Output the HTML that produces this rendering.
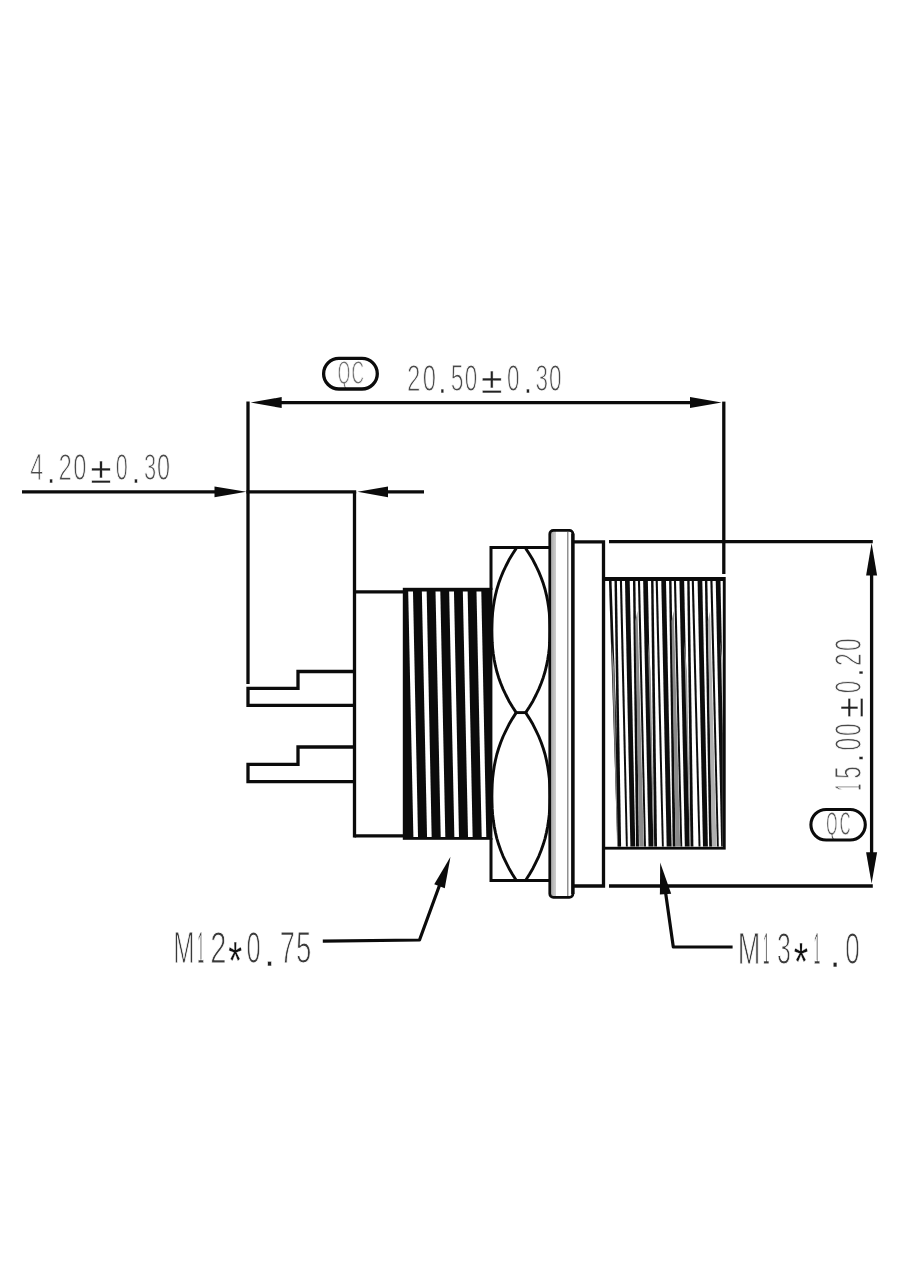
<!DOCTYPE html>
<html lang="en"><head><meta charset="utf-8"><title>Connector dimension drawing</title>
<style>
html,body{margin:0;padding:0;background:#fff}
body{width:920px;height:1280px;overflow:hidden}
svg{display:block}
text{font-family:"Liberation Sans","DejaVu Sans",sans-serif;paint-order:fill stroke;stroke-linejoin:round}
.lbl{filter:grayscale(1)}
</style></head><body>
<svg width="920" height="1280" viewBox="0 0 920 1280">
<rect width="920" height="1280" fill="#fff"/>
<g id="labels" class="lbl">
<text y="480.3" font-size="36" fill="#4a4a4a" stroke="#fff" stroke-width="1.0" aria-label="4.20±0.30"><tspan x="30.34" textLength="12.86" lengthAdjust="spacingAndGlyphs">4</tspan><tspan x="47.10" dy="2.6" fill="#222" stroke-width="0.5" textLength="8.34" lengthAdjust="spacingAndGlyphs">.</tspan><tspan x="58.49" dy="-2.6" textLength="13.42" lengthAdjust="spacingAndGlyphs">2</tspan><tspan x="73.35" textLength="13.21" lengthAdjust="spacingAndGlyphs">0</tspan><tspan x="90.56" dy="2.2" fill="#222" stroke-width="0.45" textLength="20.95" lengthAdjust="spacingAndGlyphs">±</tspan><tspan x="115.63" dy="-2.2" textLength="12.05" lengthAdjust="spacingAndGlyphs">0</tspan><tspan x="131.80" dy="2.6" fill="#222" stroke-width="0.5" textLength="8.34" lengthAdjust="spacingAndGlyphs">.</tspan><tspan x="144.02" dy="-2.6" textLength="12.18" lengthAdjust="spacingAndGlyphs">3</tspan><tspan x="156.96" textLength="13.09" lengthAdjust="spacingAndGlyphs">0</tspan></text>
<text y="391" font-size="36" fill="#4a4a4a" stroke="#fff" stroke-width="1.0" aria-label="20.50±0.30"><tspan x="407.09" textLength="13.42" lengthAdjust="spacingAndGlyphs">2</tspan><tspan x="422.75" textLength="13.21" lengthAdjust="spacingAndGlyphs">0</tspan><tspan x="438.30" dy="2.4" fill="#222" stroke-width="0.5" textLength="8.34" lengthAdjust="spacingAndGlyphs">.</tspan><tspan x="450.78" dy="-2.4" textLength="12.78" lengthAdjust="spacingAndGlyphs">5</tspan><tspan x="464.70" textLength="12.51" lengthAdjust="spacingAndGlyphs">0</tspan><tspan x="481.03" dy="2" fill="#222" stroke-width="0.45" textLength="21.40" lengthAdjust="spacingAndGlyphs">±</tspan><tspan x="506.90" dy="-2" textLength="12.51" lengthAdjust="spacingAndGlyphs">0</tspan><tspan x="523.80" dy="2.4" fill="#222" stroke-width="0.5" textLength="8.34" lengthAdjust="spacingAndGlyphs">.</tspan><tspan x="535.60" dy="-2.4" textLength="12.54" lengthAdjust="spacingAndGlyphs">3</tspan><tspan x="549.10" textLength="12.51" lengthAdjust="spacingAndGlyphs">0</tspan></text>
<text transform="translate(860.6,0) rotate(-90)" y="0" font-size="36" fill="#4a4a4a" stroke="#fff" stroke-width="1.0" aria-label="15.00±0.20"><tspan x="-790.77" textLength="7.11" lengthAdjust="spacingAndGlyphs">1</tspan><tspan x="-778.80" textLength="12.54" lengthAdjust="spacingAndGlyphs">5</tspan><tspan x="-762.30" dy="2.4" fill="#222" stroke-width="0.5" textLength="8.34" lengthAdjust="spacingAndGlyphs">.</tspan><tspan x="-750.62" dy="-2.4" textLength="12.74" lengthAdjust="spacingAndGlyphs">0</tspan><tspan x="-736.02" textLength="12.74" lengthAdjust="spacingAndGlyphs">0</tspan><tspan x="-718.14" dy="2" fill="#222" stroke-width="0.45" textLength="20.84" lengthAdjust="spacingAndGlyphs">±</tspan><tspan x="-693.30" dy="-2" textLength="12.51" lengthAdjust="spacingAndGlyphs">0</tspan><tspan x="-676.70" dy="2.4" fill="#222" stroke-width="0.5" textLength="8.34" lengthAdjust="spacingAndGlyphs">.</tspan><tspan x="-665.95" dy="-2.4" textLength="12.81" lengthAdjust="spacingAndGlyphs">2</tspan><tspan x="-651.02" textLength="12.74" lengthAdjust="spacingAndGlyphs">0</tspan></text>
<text y="963.3" font-size="44" fill="#3a3a3a" stroke="#fff" stroke-width="1.1" aria-label="M12*0.75"><tspan x="173.36" textLength="21.26" lengthAdjust="spacingAndGlyphs">M</tspan><tspan x="197.47" textLength="6.47" lengthAdjust="spacingAndGlyphs">1</tspan><tspan x="210.14" textLength="16.20" lengthAdjust="spacingAndGlyphs">2</tspan><tspan x="228.29" dy="16" font-size="54" fill="#111" stroke-width="0.3" textLength="13.89" lengthAdjust="spacingAndGlyphs">*</tspan><tspan x="246.58" dy="-16" textLength="14.13" lengthAdjust="spacingAndGlyphs">0</tspan><tspan x="263.90" dy="3" fill="#222" stroke-width="0.5" textLength="11.12" lengthAdjust="spacingAndGlyphs">.</tspan><tspan x="279.84" dy="-3" textLength="15.11" lengthAdjust="spacingAndGlyphs">7</tspan><tspan x="296.09" textLength="15.38" lengthAdjust="spacingAndGlyphs">5</tspan></text>
<text y="963.8" font-size="44" fill="#3a3a3a" stroke="#fff" stroke-width="1.1" aria-label="M13*1.0"><tspan x="737.63" textLength="22.63" lengthAdjust="spacingAndGlyphs">M</tspan><tspan x="763.07" textLength="6.47" lengthAdjust="spacingAndGlyphs">1</tspan><tspan x="777.00" textLength="13.84" lengthAdjust="spacingAndGlyphs">3</tspan><tspan x="793.86" dy="16.5" font-size="54" fill="#111" stroke-width="0.3" textLength="14.45" lengthAdjust="spacingAndGlyphs">*</tspan><tspan x="813.87" dy="-16.5" textLength="6.47" lengthAdjust="spacingAndGlyphs">1</tspan><tspan x="829.60" dy="3.4" fill="#222" stroke-width="0.5" textLength="11.12" lengthAdjust="spacingAndGlyphs">.</tspan><tspan x="845.36" dy="-3.4" textLength="14.48" lengthAdjust="spacingAndGlyphs">0</tspan></text>
<text y="384" font-size="33" fill="#707070" stroke="#fff" stroke-width="0.9" aria-label="QC"><tspan x="337.70" textLength="12.47" lengthAdjust="spacingAndGlyphs">Q</tspan><tspan x="351.53" textLength="12.49" lengthAdjust="spacingAndGlyphs">C</tspan></text>
<text y="834.6" font-size="33" fill="#555" stroke="#fff" stroke-width="0.8" aria-label="QC"><tspan x="826.29" textLength="11.10" lengthAdjust="spacingAndGlyphs">Q</tspan><tspan x="839.65" textLength="10.77" lengthAdjust="spacingAndGlyphs">C</tspan></text>
</g>
<g id="dimensions">
<line x1="275" y1="402.6" x2="696" y2="402.6" stroke="#0b0b0b" stroke-width="3.4" stroke-linecap="butt"/>
<polygon points="250.60,402.60 281.70,408.10 281.70,397.10" fill="#0b0b0b"/>
<polygon points="721.60,402.60 690.00,397.10 690.00,408.10" fill="#0b0b0b"/>
<line x1="248" y1="401.6" x2="248" y2="684" stroke="#0b0b0b" stroke-width="3.3" stroke-linecap="butt"/>
<line x1="723.8" y1="401.6" x2="723.8" y2="574" stroke="#0b0b0b" stroke-width="3.3" stroke-linecap="butt"/>
<line x1="22" y1="491.8" x2="230" y2="491.8" stroke="#0b0b0b" stroke-width="3.3" stroke-linecap="butt"/>
<polygon points="246.30,491.80 214.50,486.40 214.50,497.20" fill="#0b0b0b"/>
<line x1="246.4" y1="491.8" x2="356.2" y2="491.8" stroke="#0b0b0b" stroke-width="3.3" stroke-linecap="butt"/>
<polygon points="357.50,491.80 388.00,497.20 388.00,486.40" fill="#0b0b0b"/>
<line x1="380" y1="491.8" x2="424" y2="491.8" stroke="#0b0b0b" stroke-width="3.3" stroke-linecap="butt"/>
<line x1="609" y1="541.7" x2="872.8" y2="541.7" stroke="#0b0b0b" stroke-width="3.3" stroke-linecap="butt"/>
<line x1="609" y1="886" x2="872.8" y2="886" stroke="#0b0b0b" stroke-width="3.3" stroke-linecap="butt"/>
<line x1="871.6" y1="560" x2="871.6" y2="870" stroke="#0b0b0b" stroke-width="3.3" stroke-linecap="butt"/>
<polygon points="871.60,543.00 866.10,575.60 877.10,575.60" fill="#0b0b0b"/>
<polygon points="871.60,883.50 877.10,852.30 866.10,852.30" fill="#0b0b0b"/>
<path d="M322.8,941.2 L419.5,940 L440,884" fill="none" stroke="#0b0b0b" stroke-width="3.2" stroke-linejoin="round"/>
<polygon points="450.50,856.80 434.25,884.34 444.75,888.26" fill="#0b0b0b"/>
<path d="M732.6,947 H673.3 L665.5,892" fill="none" stroke="#0b0b0b" stroke-width="3.2" stroke-linejoin="round"/>
<polygon points="660.20,862.60 659.90,894.60 671.20,893.80" fill="#0b0b0b"/>
<rect x="323.6" y="358.4" width="53.7" height="30.6" rx="15.3" fill="none" stroke="#0b0b0b" stroke-width="3.3"/>
<rect x="810.9" y="809.5" width="54.4" height="30.5" rx="15.25" fill="none" stroke="#0b0b0b" stroke-width="3.1"/>
</g>
<g id="connector">
<line x1="354.5" y1="491.8" x2="354.5" y2="837.4" stroke="#0b0b0b" stroke-width="3.3" stroke-linecap="butt"/>
<line x1="354.5" y1="591.8" x2="404" y2="591.8" stroke="#0b0b0b" stroke-width="3.3" stroke-linecap="butt"/>
<line x1="354.5" y1="835.8" x2="404" y2="835.8" stroke="#0b0b0b" stroke-width="3.3" stroke-linecap="butt"/>
<path d="M355,671.5 H298 V688.3 H248 V705.3 H355" fill="none" stroke="#0b0b0b" stroke-width="3.3" stroke-linejoin="miter"/>
<path d="M355,747 H298 V764.4 H248 V781.6 H355" fill="none" stroke="#0b0b0b" stroke-width="3.3" stroke-linejoin="miter"/>
<rect x="402.8" y="587.8" width="89.6" height="252" fill="#0b0b0b"/>
<polygon points="408.20,591.40 413.00,591.40 418.00,837.00 413.40,837.00" fill="#fff"/>
<polygon points="421.86,591.40 426.66,591.40 431.66,837.00 427.06,837.00" fill="#fff"/>
<polygon points="435.52,591.40 440.32,591.40 445.32,837.00 440.72,837.00" fill="#fff"/>
<polygon points="449.18,591.40 453.98,591.40 458.98,837.00 454.38,837.00" fill="#fff"/>
<polygon points="462.84,591.40 467.64,591.40 472.64,837.00 468.04,837.00" fill="#fff"/>
<polygon points="476.50,591.40 481.30,591.40 486.30,837.00 481.70,837.00" fill="#fff"/>
<path d="M491,590 V547.5 H550" fill="none" stroke="#0b0b0b" stroke-width="3.0" stroke-linejoin="miter"/>
<path d="M491,838 V880.5 H550" fill="none" stroke="#0b0b0b" stroke-width="3.0" stroke-linejoin="miter"/>
<path d="M516.2,548.4 L512.4,554.3 L508.9,560.1 L505.9,566.0 L503.1,571.9 L500.7,577.7 L498.6,583.6 L496.8,589.5 L495.4,595.3 L494.2,601.2 L493.3,607.0 L492.6,612.9 L492.2,618.8 L492.0,624.6 L491.9,630.5 L492.0,636.4 L492.2,642.2 L492.6,648.1 L493.3,654.0 L494.2,659.8 L495.4,665.7 L496.8,671.5 L498.6,677.4 L500.7,683.3 L503.1,689.1 L505.9,695.0 L508.9,700.9 L512.4,706.7 L516.2,712.6" fill="none" stroke="#0b0b0b" stroke-width="2.9" stroke-linejoin="round"/>
<path d="M525.7,548.4 L529.5,554.3 L533.0,560.1 L536.0,566.0 L538.8,571.9 L541.2,577.7 L543.3,583.6 L545.1,589.5 L546.5,595.3 L547.7,601.2 L548.6,607.0 L549.3,612.9 L549.7,618.8 L549.9,624.6 L550.0,630.5 L549.9,636.4 L549.7,642.2 L549.3,648.1 L548.6,654.0 L547.7,659.8 L546.5,665.7 L545.1,671.5 L543.3,677.4 L541.2,683.3 L538.8,689.1 L536.0,695.0 L533.0,700.9 L529.5,706.7 L525.7,712.6" fill="none" stroke="#0b0b0b" stroke-width="2.9" stroke-linejoin="round"/>
<path d="M516.2,712.6 L512.4,718.6 L508.9,724.6 L505.9,730.6 L503.1,736.5 L500.7,742.5 L498.6,748.5 L496.8,754.5 L495.4,760.5 L494.2,766.5 L493.3,772.5 L492.6,778.4 L492.2,784.4 L492.0,790.4 L491.9,796.4 L492.0,802.4 L492.2,808.4 L492.6,814.4 L493.3,820.3 L494.2,826.3 L495.4,832.3 L496.8,838.3 L498.6,844.3 L500.7,850.3 L503.1,856.3 L505.9,862.2 L508.9,868.2 L512.4,874.2 L516.2,880.2" fill="none" stroke="#0b0b0b" stroke-width="2.9" stroke-linejoin="round"/>
<path d="M525.7,712.6 L529.5,718.6 L533.0,724.6 L536.0,730.6 L538.8,736.5 L541.2,742.5 L543.3,748.5 L545.1,754.5 L546.5,760.5 L547.7,766.5 L548.6,772.5 L549.3,778.4 L549.7,784.4 L549.9,790.4 L550.0,796.4 L549.9,802.4 L549.7,808.4 L549.3,814.4 L548.6,820.3 L547.7,826.3 L546.5,832.3 L545.1,838.3 L543.3,844.3 L541.2,850.3 L538.8,856.3 L536.0,862.2 L533.0,868.2 L529.5,874.2 L525.7,880.2" fill="none" stroke="#0b0b0b" stroke-width="2.9" stroke-linejoin="round"/>
<path d="M516,712.6 H526" fill="none" stroke="#0b0b0b" stroke-width="2.9" stroke-linejoin="miter"/>
<linearGradient id="fg" x1="0" x2="1" y1="0" y2="0"><stop offset="0" stop-color="#a8a8a8"/><stop offset="1" stop-color="#cfcfcf"/></linearGradient>
<rect x="550.6" y="531" width="5.4" height="366" fill="url(#fg)"/>
<rect x="567.2" y="532" width="1.2" height="364" fill="#777"/>
<rect x="549.75" y="530.3" width="23.2" height="367" rx="3.6" fill="none" stroke="#0b0b0b" stroke-width="2.7"/>
<rect x="571.2" y="533.5" width="3.3" height="360.5" fill="#0b0b0b"/>
<path d="M574,541.8 H603.5 V886 H574" fill="none" stroke="#0b0b0b" stroke-width="3.3" stroke-linejoin="miter"/>
<rect x="602" y="577" width="123.7" height="272.6" fill="#0b0b0b"/>
<rect x="605.2" y="581" width="117.6" height="265.8" fill="#fff"/>
<filter id="soft" x="-5%" y="-5%" width="110%" height="110%"><feGaussianBlur stdDeviation="0.45"/></filter>
<clipPath id="t2"><rect x="605.2" y="581" width="117.6" height="265.8"/></clipPath><g clip-path="url(#t2)"><g filter="url(#soft)">
<polygon points="608.95,581.00 611.55,581.00 620.45,846.80 617.45,846.80" fill="#0b0b0b"/>
<polygon points="614.51,581.00 616.91,581.00 621.10,846.80 618.20,846.80" fill="#0b0b0b"/>
<polygon points="619.89,581.00 621.99,581.00 627.82,846.80 625.92,846.80" fill="#0b0b0b"/>
<polygon points="611.55,641.00 614.35,671.00 617.95,846.80 617.15,846.80" fill="#8a8a8a"/>
<polygon points="625.00,581.00 629.70,581.00 635.30,846.80 630.40,846.80" fill="#0b0b0b"/>
<polygon points="632.98,581.00 635.38,581.00 638.95,846.80 636.05,846.80" fill="#0b0b0b"/>
<polygon points="637.94,581.00 640.04,581.00 645.98,846.80 644.08,846.80" fill="#0b0b0b"/>
<polygon points="635.20,621.00 637.50,611.00 643.90,846.80 639.30,846.80" fill="#8a8a8a"/>
<polygon points="643.15,581.00 647.85,581.00 653.45,846.80 648.55,846.80" fill="#0b0b0b"/>
<polygon points="651.08,581.00 653.48,581.00 657.03,846.80 654.13,846.80" fill="#0b0b0b"/>
<polygon points="655.69,581.00 657.79,581.00 663.82,846.80 661.92,846.80" fill="#0b0b0b"/>
<polygon points="647.85,641.00 650.65,671.00 654.25,846.80 653.45,846.80" fill="#8a8a8a"/>
<polygon points="661.30,581.00 666.00,581.00 671.60,846.80 666.70,846.80" fill="#0b0b0b"/>
<polygon points="669.11,581.00 671.51,581.00 675.58,846.80 672.68,846.80" fill="#0b0b0b"/>
<polygon points="673.92,581.00 676.02,581.00 682.26,846.80 680.36,846.80" fill="#0b0b0b"/>
<polygon points="671.50,621.00 673.80,611.00 680.20,846.80 675.60,846.80" fill="#8a8a8a"/>
<polygon points="679.45,581.00 684.15,581.00 689.75,846.80 684.85,846.80" fill="#0b0b0b"/>
<polygon points="687.24,581.00 689.64,581.00 693.38,846.80 690.48,846.80" fill="#0b0b0b"/>
<polygon points="691.76,581.00 693.86,581.00 700.47,846.80 698.57,846.80" fill="#0b0b0b"/>
<polygon points="684.15,641.00 686.95,671.00 690.55,846.80 689.75,846.80" fill="#9a9a9a"/>
<polygon points="697.60,581.00 702.30,581.00 707.90,846.80 703.00,846.80" fill="#0b0b0b"/>
<polygon points="704.93,581.00 707.33,581.00 712.10,846.80 709.20,846.80" fill="#0b0b0b"/>
<polygon points="710.38,581.00 712.48,581.00 718.82,846.80 716.92,846.80" fill="#0b0b0b"/>
<polygon points="707.80,621.00 710.10,611.00 716.50,846.80 711.90,846.80" fill="#b0b0b0"/>
<polygon points="715.75,581.00 720.45,581.00 726.05,846.80 721.15,846.80" fill="#0b0b0b"/>
<polygon points="723.40,581.00 725.80,581.00 730.22,846.80 727.32,846.80" fill="#0b0b0b"/>
<polygon points="728.47,581.00 730.57,581.00 736.86,846.80 734.96,846.80" fill="#0b0b0b"/>
<polygon points="720.45,641.00 723.25,671.00 726.85,846.80 726.05,846.80" fill="#b0b0b0"/>
</g></g>
</g>
</svg>
</body></html>
